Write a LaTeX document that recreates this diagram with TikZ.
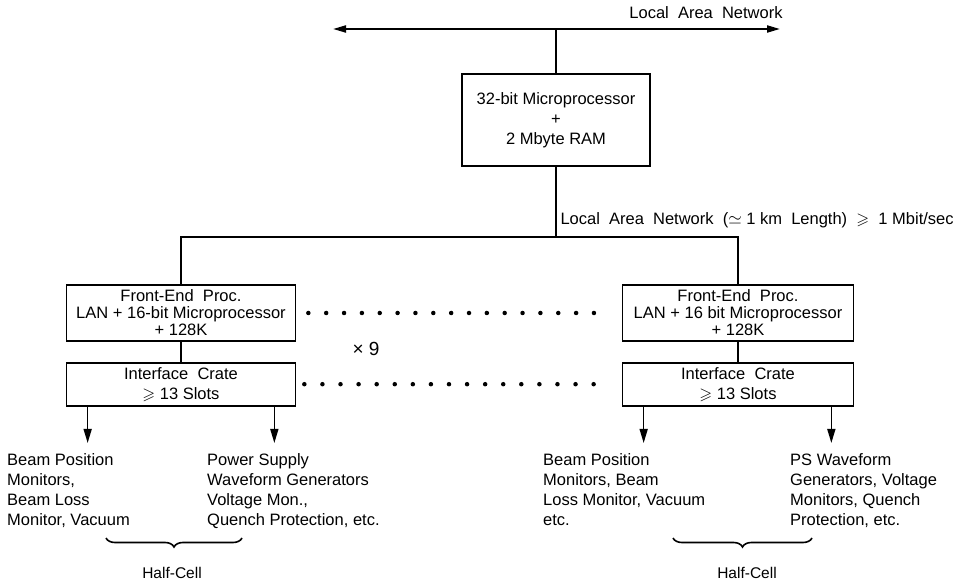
\documentclass[tikz,border=0pt]{standalone}
\usepackage{amssymb}
\usepackage{fontspec}
\setmainfont{Liberation Sans}
\usepackage{tikz}
\usetikzlibrary{arrows.meta,positioning,decorations.pathreplacing}

\newcommand{\boxfont}{\fontsize{16.5}{20}\selectfont}
\newcommand{\feprocfont}{\fontsize{16.5}{17}\selectfont}

\tikzset{
    unit/.style={draw, line width=1.7pt, inner sep=0pt, align=center, font=\boxfont},
    feproc/.style={unit, minimum width=229pt, minimum height=56pt, font=\feprocfont},
    crate/.style={unit, minimum width=229pt, minimum height=43pt},
    devices/.style={inner sep=0pt, align=left, anchor=north west, font=\boxfont},
    feed/.style={line width=1.5pt, -{Triangle[length=14pt,width=8pt]}, shorten >=10pt},
    link/.style={line width=1.5pt},
    dotrow/.style={line width=4.5pt, line cap=round},
    halfbrace/.style={line width=1.6pt, decorate, decoration={brace, amplitude=9pt}}
}

\begin{document}
\begin{tikzpicture}[x=1pt,y=-1pt]
    \useasboundingbox (0,0) rectangle (978,585);

    % Top LAN and central processor
    \coordinate (lanL) at (333,29);
    \coordinate (lanR) at (780,29);
    \draw[line width=2pt, {Triangle[length=13pt,width=7pt]}-{Triangle[length=13pt,width=7pt]}] (lanL) -- (lanR);
    \node[font=\boxfont] (lantop) at (706,13) {Local\ \ Area\ \ Network};
    \node[unit, minimum width=188pt, minimum height=92pt] (cpu) at (556,120)
        {32-bit Microprocessor\\+\\2 Mbyte RAM};
    \draw[link] (cpu.north) -- (cpu.north |- lanL);

    % Front-end processors and crates
    \node[feproc] (fe1) at (181,313) {Front-End\ \ Proc.\\LAN + 16-bit Microprocessor\\+ 128K};
    \node[crate, below=20pt of fe1] (ic1) {Interface\ \ Crate\\$\geqslant$ 13 Slots};
    \node[feproc, minimum width=231pt] (fe2) at (738,313) {Front-End\ \ Proc.\\LAN + 16 bit Microprocessor\\+ 128K};
    \node[crate, minimum width=231pt, below=20pt of fe2] (ic2) {Interface\ \ Crate\\$\geqslant$ 13 Slots};

    % LAN bus
    \coordinate (busL) at (fe1.north |- 0,237);
    \draw[link] (cpu.south) -- (cpu.south |- busL);
    \draw[link] (fe1.north) -- (busL) -| (fe2.north);
    \node[font=\boxfont, anchor=west] (lanbus) at (557,220)
        {Local\ \ Area\ \ Network\ \ ($\simeq$\ 1 km\ \ Length)\ \ $\geqslant$\ \ 1 Mbit/sec};
    \draw[link] (fe1) -- (ic1);
    \draw[link] (fe2) -- (ic2);

    % repeated units
    \draw[dotrow, dash pattern=on 0pt off 17.85pt]
        ([xshift=12pt]fe1.east) -- ([xshift=-11pt]fe1.east -| fe2.west);
    \draw[dotrow, dash pattern=on 0pt off 18.08pt]
        ([xshift=8pt]ic1.east) -- ([xshift=-11pt]ic2.west);
    \node[font=\fontsize{19}{20}\selectfont] (times) at (366,349) {×\ 9};

    % Devices, left half-cell
    \node[devices] (bpm1) at (7,453) {Beam Position\\Monitors,\\Beam Loss\\Monitor, Vacuum};
    \node[devices] (ps1) at (207,453) {Power Supply\\Waveform Generators\\Voltage Mon.,\\Quench Protection, etc.};
    \draw[feed] ([xshift=22pt]ic1.south west) -- ([xshift=22pt]ic1.south west |- bpm1.north);
    \draw[feed] ([xshift=-22pt]ic1.south east) -- ([xshift=-22pt]ic1.south east |- ps1.north);

    % Devices, right half-cell
    \node[devices] (bpm2) at (543,453) {Beam Position\\Monitors, Beam\\Loss Monitor, Vacuum\\etc.};
    \node[devices] (ps2) at (790,453) {PS Waveform\\Generators, Voltage\\Monitors, Quench\\Protection, etc.};
    \draw[feed] ([xshift=22pt]ic2.south west) -- ([xshift=22pt]ic2.south west |- bpm2.north);
    \draw[feed] ([xshift=-23pt]ic2.south east) -- ([xshift=-23pt]ic2.south east |- ps2.north);

    % Half-cell braces
    \coordinate (hc1a) at (106,538);
    \coordinate (hc1b) at (242,538);
    \coordinate (hc2a) at (673,538);
    \coordinate (hc2b) at (812,538);
    \draw[halfbrace] (hc1b) -- (hc1a);
    \draw[halfbrace] (hc2b) -- (hc2a);
    \node[font=\fontsize{15.5}{18}\selectfont] (half1) at (172,573) {Half-Cell};
    \node[font=\fontsize{15.5}{18}\selectfont] (half2) at (747,573) {Half-Cell};
\end{tikzpicture}
\end{document}
